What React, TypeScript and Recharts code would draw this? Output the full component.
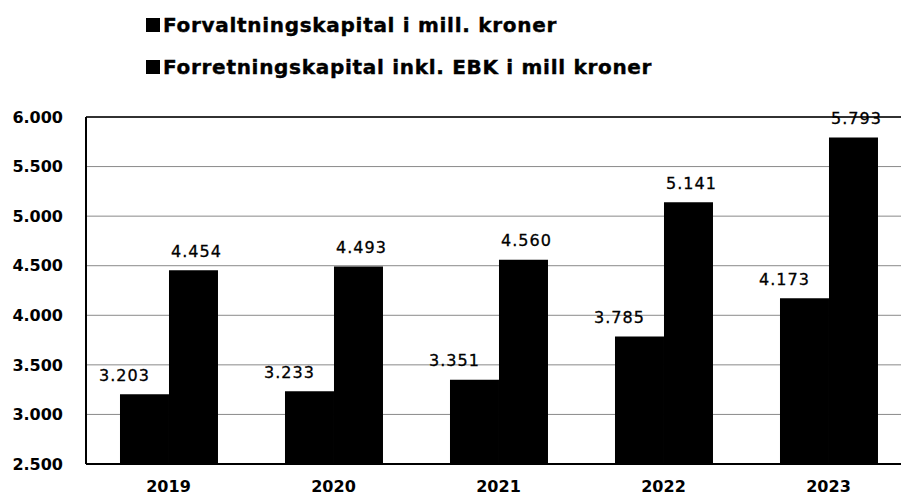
import { BarChart, Bar, XAxis, YAxis, CartesianGrid, Legend, LabelList, ReferenceLine } from "recharts";

const years = ["2019", "2020", "2021", "2022", "2023"];
const forvaltningskapital = [3203, 3233, 3351, 3785, 4173];
const forretningskapital = [4454, 4493, 4560, 5141, 5793];
const yTicks = [2500, 3000, 3500, 4000, 4500, 5000, 5500, 6000];
const seriesNames = ["Forvaltningskapital i mill. kroner", "Forretningskapital inkl. EBK i mill kroner"];

const data = years.map((year, i) => ({
  year,
  forvaltning: forvaltningskapital[i],
  forretning: forretningskapital[i],
}));

const FONT = "'DejaVu Sans', Verdana, sans-serif";

// 6000 -> "6.000"
const fmt = (v: number) => String(v).replace(/\B(?=(\d{3})+(?!\d))/g, ".");

function valueLabel(dx: number) {
  return (props: any) => {
    const { x, y, width, value } = props;
    return (
      <text
        x={Number(x) + Number(width) / 2 + dx}
        y={Number(y) - 19}
        textAnchor="middle"
        dominantBaseline="central"
        fontFamily={FONT}
        fontSize={16}
        letterSpacing={1}
        fill="#000"
        stroke="#000"
        strokeWidth={0.3}
      >
        {fmt(Number(value))}
      </text>
    );
  };
}

function LegendBox() {
  return (
    <div style={{ position: "relative", width: 901, height: 117, fontFamily: FONT, fontWeight: 700, fontSize: 20 }}>
      {seriesNames.map((name, i) => (
        <div
          key={name}
          style={{ position: "absolute", left: 146, top: 14 + i * 42, display: "flex", alignItems: "center", lineHeight: "22px" }}
        >
          <span style={{ width: 14, height: 14, background: "#000", marginRight: 3, display: "inline-block" }} />
          <span style={{ letterSpacing: 0.7, color: "#000", WebkitTextStroke: "0.4px #000" }}>{name}</span>
        </div>
      ))}
    </div>
  );
}

export default function App() {
  return (
    <div style={{ position: "fixed", left: 0, top: 0, width: 901, height: 496, overflow: "hidden", background: "#fff" }}>
      <BarChart
        width={911}
        height={496}
        data={data}
        margin={{ top: 0, right: 0, bottom: 0, left: 0 }}
        barCategoryGap="20.6%"
        barGap={0}
      >
        <Legend verticalAlign="top" align="left" wrapperStyle={{ top: 0, left: 0, width: 901, height: 117 }} content={() => <LegendBox />} />
        <CartesianGrid vertical={false} stroke="#8a8a8a" strokeWidth={1} />
        <ReferenceLine y={6000} stroke="#000" strokeWidth={1.5} />
        <XAxis
          dataKey="year"
          height={32}
          tickLine={false}
          tickSize={0}
          tickMargin={17}
          axisLine={{ stroke: "#000", strokeWidth: 2 }}
          tick={{ fill: "#000", fontFamily: FONT, fontSize: 16, fontWeight: 700 }}
        />
        <YAxis
          width={86}
          domain={[2500, 6000]}
          ticks={yTicks}
          allowDataOverflow
          tickLine={false}
          tickSize={0}
          tickMargin={23}
          tickFormatter={fmt}
          axisLine={{ stroke: "#000", strokeWidth: 2 }}
          tick={{ fill: "#000", fontFamily: FONT, fontSize: 16, fontWeight: 700 }}
        />
        <Bar dataKey="forvaltning" name={seriesNames[0]} fill="#000" isAnimationActive={false}>
          <LabelList dataKey="forvaltning" content={valueLabel(-20)} />
        </Bar>
        <Bar dataKey="forretning" name={seriesNames[1]} fill="#000" isAnimationActive={false}>
          <LabelList dataKey="forretning" content={valueLabel(3)} />
        </Bar>
      </BarChart>
    </div>
  );
}
